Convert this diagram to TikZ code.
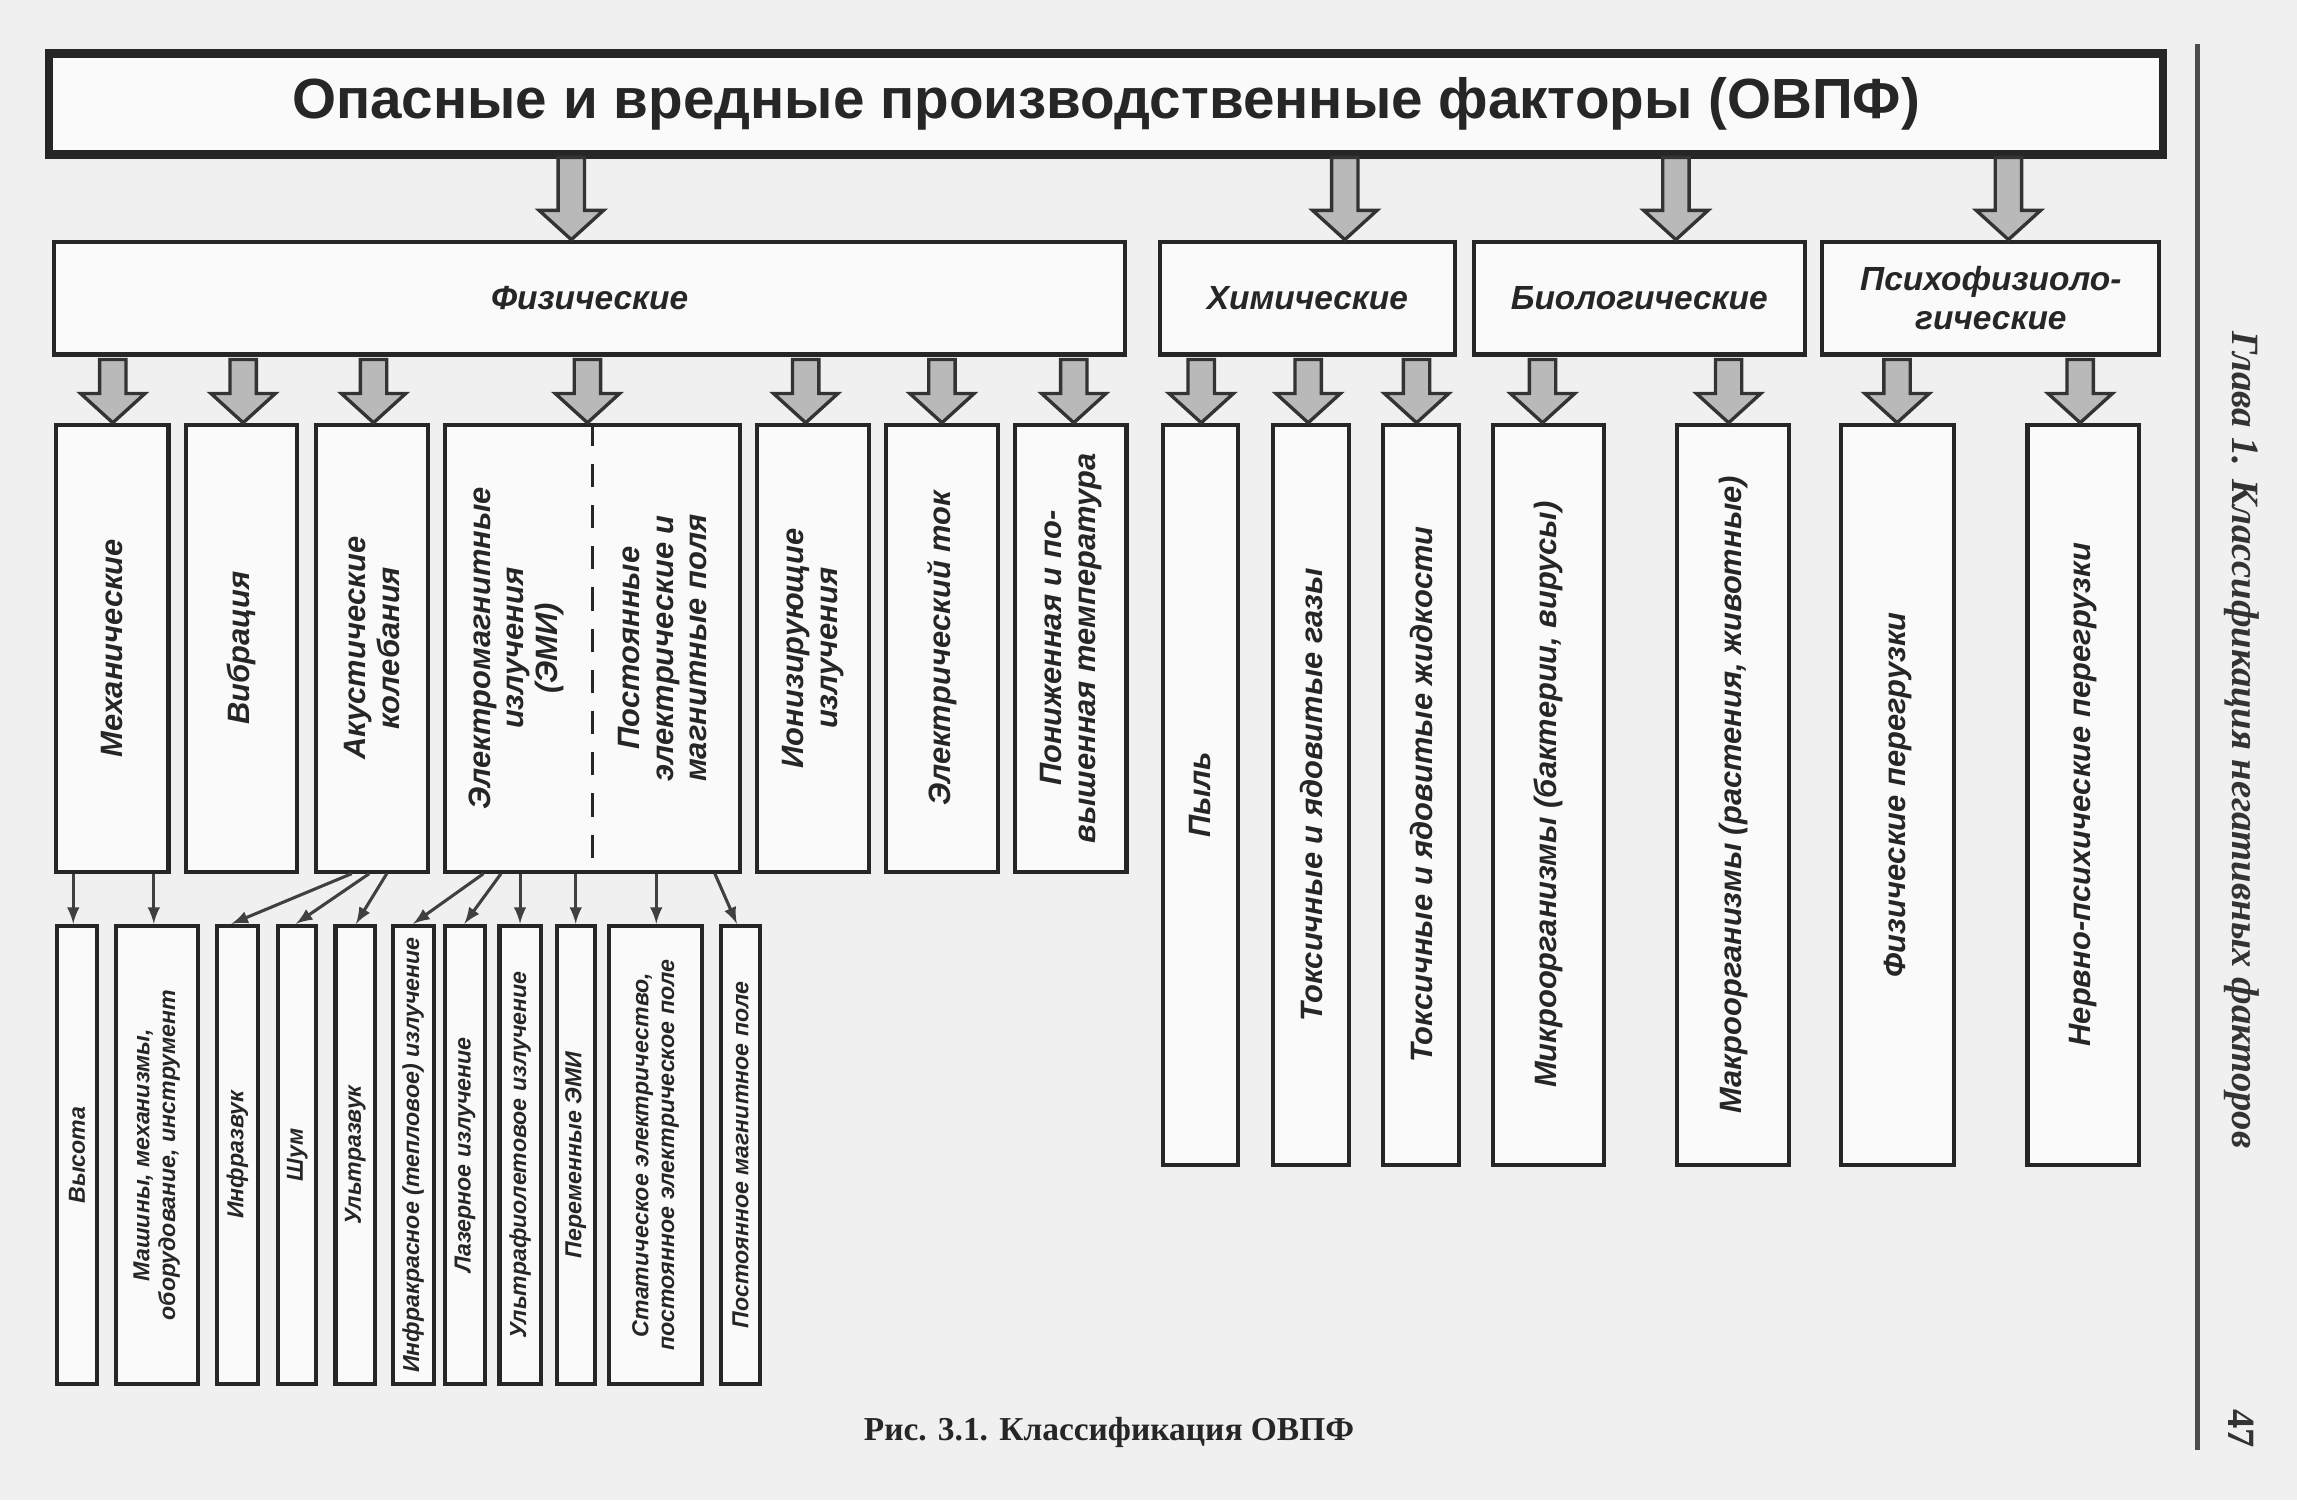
\documentclass[tikz,border=0pt]{standalone}
\usepackage{fontspec}
\setmainfont{Liberation Serif}
\setsansfont{Liberation Sans}
\usetikzlibrary{calc,fit,positioning}
\tikzset{
    box/.style={draw=black!85, line width=1.6pt, fill=white!96!gray, inner sep=0pt},
    txt/.style={font=\sffamily\bfseries\itshape\fontsize{12}{13}\selectfont, align=center, text=black!85},
    small/.style={font=\sffamily\bfseries\itshape\fontsize{9}{10}\selectfont, align=center, text=black!85},
    fatarr/.style={draw=black!80, line width=1.3pt, fill=gray!55},
    thin/.style={draw=black!75, line width=1.2pt, ->, >=latex},
}
% box from corner to corner, text set upright or turned
\newcommand\bx[7]{%
    \node[box, fit={(#2,#3) (#4,#5)}] (#1) {};
    \node[#7] at (#1) {#6};
}
\newcommand\fatarrow[3]{%
    \path (#2.south -| #1,0) coordinate (t) (#3.north -| #1,0) coordinate (b);
    \draw[fatarr] ($(t)+(-9,2)$) -- ($(t)+(9,2)$) -- ($(b)+(9,-20)$) -- ($(b)+(22,-20)$)
        -- (b) -- ($(b)+(-22,-20)$) -- ($(b)+(-9,-20)$) -- cycle;
}
\begin{document}
\begin{tikzpicture}[x=0.02cm, y=-0.02cm]
    \fill[gray!12] (0,0) rectangle (1568,1024);
    \useasboundingbox (0,0) rectangle (1568,1024);

    % top
    \bx{ovpf}{35}{38}{1475}{104}{Опасные и вредные производственные факторы (ОВПФ)}{font=\sffamily\bfseries\fontsize{22}{24}\selectfont, text=black!85}
    \draw[black!85, line width=3.2pt] (ovpf.north west) rectangle (ovpf.south east);

    % groups
    \bx{fiz}{37}{165}{768}{242}{Физические}{txt, font=\sffamily\bfseries\itshape\fontsize{13}{14}\selectfont}
    \bx{him}{792}{165}{993}{242}{Химические}{txt, font=\sffamily\bfseries\itshape\fontsize{13}{14}\selectfont}
    \bx{bio}{1006}{165}{1232}{242}{Биологические}{txt, font=\sffamily\bfseries\itshape\fontsize{13}{14}\selectfont}
    \bx{psi}{1244}{165}{1474}{242}{Психофизиоло-\\гические}{txt, font=\sffamily\bfseries\itshape\fontsize{13}{15}\selectfont}

    \fatarrow{390}{ovpf}{fiz}
    \fatarrow{918}{ovpf}{him}
    \fatarrow{1144}{ovpf}{bio}
    \fatarrow{1371}{ovpf}{psi}

    % physical
    \bx{meh}{38}{290}{115}{595}{Механические}{txt, rotate=90}
    \bx{vib}{127}{290}{203}{595}{Вибрация}{txt, rotate=90}
    \bx{ak}{216}{290}{292}{595}{Акустические\\колебания}{txt, rotate=90}
    \node[box, fit={(304,290) (505,595)}] (emi) {};
    \draw[black!85, line width=1.4pt, dash pattern=on 9pt off 7pt] (emi.north) -- (emi.south);
    \node[txt, rotate=90] at ($(emi.center)+(-52,0)$) {Электромагнитные\\излучения\\(ЭМИ)};
    \node[txt, rotate=90] at ($(emi.center)+(48,0)$) {Постоянные\\электрические и\\магнитные поля};
    \bx{ion}{517}{290}{593}{595}{Ионизирующие\\излучения}{txt, rotate=90}
    \bx{tok}{605}{290}{681}{595}{Электрический ток}{txt, rotate=90}
    \bx{temp}{693}{290}{769}{595}{Пониженная и по-\\вышенная температура}{txt, rotate=90}
    \foreach \x/\n in {77/meh, 166/vib, 255/ak, 401/emi, 550/ion, 643/tok, 733/temp}
        {\fatarrow{\x}{fiz}{\n}}

    % chemical
    \bx{pyl}{794}{290}{845}{795}{Пыль}{txt, rotate=90}
    \bx{gaz}{869}{290}{921}{795}{Токсичные и ядовитые газы}{txt, rotate=90}
    \bx{zhid}{944}{290}{996}{795}{Токсичные и ядовитые жидкости}{txt, rotate=90}
    \foreach \x/\n in {820/pyl, 893/gaz, 967/zhid}
        {\fatarrow{\x}{him}{\n}}

    % biological
    \bx{mikro}{1019}{290}{1095}{795}{Микроорганизмы (бактерии, вирусы)}{txt, rotate=90}
    \bx{makro}{1145}{290}{1221}{795}{Макроорганизмы (растения, животные)}{txt, rotate=90}
    \fatarrow{1053}{bio}{mikro}
    \fatarrow{1180}{bio}{makro}

    % psycho-physiological
    \bx{fper}{1257}{290}{1334}{795}{Физические перегрузки}{txt, rotate=90}
    \bx{nper}{1384}{290}{1460}{795}{Нервно-психические перегрузки}{txt, rotate=90}
    \fatarrow{1295}{psi}{fper}
    \fatarrow{1420}{psi}{nper}

    % third level
    \bx{vys}{39}{632}{66}{945}{Высота}{small, rotate=90}
    \bx{mash}{79}{632}{135}{945}{Машины, механизмы,\\оборудование, инструмент}{small, rotate=90}
    \bx{infz}{148}{632}{176}{945}{Инфразвук}{small, rotate=90}
    \bx{shum}{190}{632}{216}{945}{Шум}{small, rotate=90}
    \bx{ultz}{229}{632}{256}{945}{Ультразвук}{small, rotate=90}
    \bx{ik}{268}{632}{296}{945}{Инфракрасное (тепловое) излучение}{small, rotate=90}
    \bx{laz}{304}{632}{331}{945}{Лазерное излучение}{small, rotate=90}
    \bx{uf}{341}{632}{369}{945}{Ультрафиолетовое излучение}{small, rotate=90}
    \bx{per}{380}{632}{406}{945}{Переменные ЭМИ}{small, rotate=90}
    \bx{stat}{416}{632}{479}{945}{Статическое электричество,\\постоянное электрическое поле}{small, rotate=90}
    \bx{mag}{492}{632}{519}{945}{Постоянное магнитное поле}{small, rotate=90}

    \draw[thin] (meh.south -| 50,0) -- (vys.north -| 50,0);
    \draw[thin] (meh.south -| 105,0) -- (mash.north -| 105,0);
    \draw[thin] (ak.south -| 240,0) -- (infz.north -| 158,0);
    \draw[thin] (ak.south -| 252,0) -- (shum.north -| 202,0);
    \draw[thin] (ak.south -| 264,0) -- (ultz.north -| 243,0);
    \draw[thin] (emi.south -| 330,0) -- (ik.north -| 282,0);
    \draw[thin] (emi.south -| 342,0) -- (laz.north -| 317,0);
    \draw[thin] (emi.south -| 355,0) -- (uf.north -| 355,0);
    \draw[thin] (emi.south -| 393,0) -- (per.north -| 393,0);
    \draw[thin] (emi.south -| 448,0) -- (stat.north -| 448,0);
    \draw[thin] (emi.south -| 488,0) -- (mag.north -| 503,0);

    % caption and page margin
    \node[font=\bfseries\fontsize{13}{14}\selectfont, text=black!85] (cap) at (757,978) {Рис. 3.1. Классификация ОВПФ};
    \draw[black!70, line width=2pt] (1500,30) -- (1500,990);
    \node[rotate=-90, font=\bfseries\itshape\fontsize{15}{16}\selectfont, text=black!80] (glava) at (1530,505) {Глава 1. Классификация негативных факторов};
    \node[rotate=-90, font=\bfseries\fontsize{15}{16}\selectfont, text=black!80] (page) at (1530,975) {47};
\end{tikzpicture}
\end{document}
